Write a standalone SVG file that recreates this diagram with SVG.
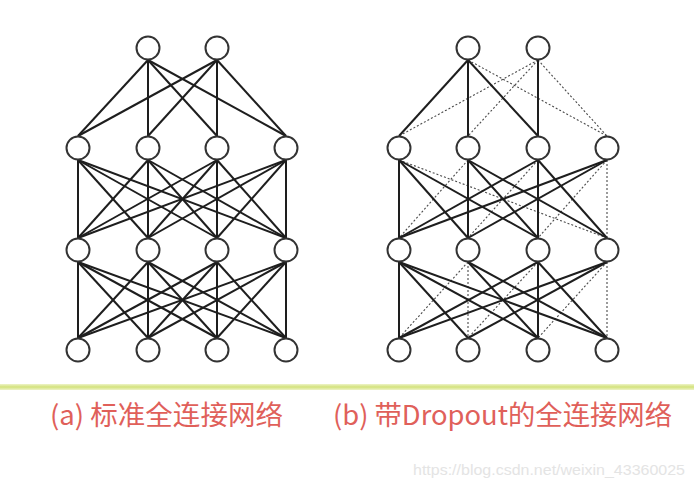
<svg xmlns="http://www.w3.org/2000/svg" width="694" height="488" viewBox="0 0 694 488">
<style>
.e{stroke:#1e1e1e;stroke-width:2;fill:none}
.d{stroke:#4a4a4a;stroke-width:1.1;stroke-dasharray:2 2;fill:none}
.n{fill:#fff;stroke:#333;stroke-width:2}
.lab{font-family:"Noto Sans CJK SC","Noto Sans",sans-serif;font-size:27px;fill:#e0605a}
.wm{font-family:"Liberation Sans",Arial,sans-serif;font-size:15px;fill:#e4e4e4}
</style>
<defs>
<linearGradient id="yl" x1="0" y1="0" x2="0" y2="1">
<stop offset="0" stop-color="#eef3c8"/>
<stop offset="0.5" stop-color="#d3e27c"/>
<stop offset="1" stop-color="#eef3c8"/>
</linearGradient>
</defs>
<rect width="694" height="488" fill="#fff"/>
<g id="connectors">
<g id="left-edges" class="e">
<line x1="148" y1="60" x2="78" y2="136"/><line x1="148" y1="60" x2="148" y2="136"/><line x1="148" y1="60" x2="217" y2="136"/><line x1="148" y1="60" x2="286" y2="136"/>
<line x1="217" y1="60" x2="78" y2="136"/><line x1="217" y1="60" x2="148" y2="136"/><line x1="217" y1="60" x2="217" y2="136"/><line x1="217" y1="60" x2="286" y2="136"/>
<line x1="78" y1="160" x2="78" y2="238"/><line x1="78" y1="160" x2="148" y2="238"/><line x1="78" y1="160" x2="217" y2="238"/><line x1="78" y1="160" x2="286" y2="238"/>
<line x1="148" y1="160" x2="78" y2="238"/><line x1="148" y1="160" x2="148" y2="238"/><line x1="148" y1="160" x2="217" y2="238"/><line x1="148" y1="160" x2="286" y2="238"/>
<line x1="217" y1="160" x2="78" y2="238"/><line x1="217" y1="160" x2="148" y2="238"/><line x1="217" y1="160" x2="217" y2="238"/><line x1="217" y1="160" x2="286" y2="238"/>
<line x1="286" y1="160" x2="78" y2="238"/><line x1="286" y1="160" x2="148" y2="238"/><line x1="286" y1="160" x2="217" y2="238"/><line x1="286" y1="160" x2="286" y2="238"/>
<line x1="78" y1="262" x2="78" y2="338"/><line x1="78" y1="262" x2="148" y2="338"/><line x1="78" y1="262" x2="217" y2="338"/><line x1="78" y1="262" x2="286" y2="338"/>
<line x1="148" y1="262" x2="78" y2="338"/><line x1="148" y1="262" x2="148" y2="338"/><line x1="148" y1="262" x2="217" y2="338"/><line x1="148" y1="262" x2="286" y2="338"/>
<line x1="217" y1="262" x2="78" y2="338"/><line x1="217" y1="262" x2="148" y2="338"/><line x1="217" y1="262" x2="217" y2="338"/><line x1="217" y1="262" x2="286" y2="338"/>
<line x1="286" y1="262" x2="78" y2="338"/><line x1="286" y1="262" x2="148" y2="338"/><line x1="286" y1="262" x2="217" y2="338"/><line x1="286" y1="262" x2="286" y2="338"/>
</g>
<g id="right-dropped" class="d">
<line x1="468" y1="60" x2="607" y2="136"/>
<line x1="538" y1="60" x2="399" y2="136"/><line x1="538" y1="60" x2="468" y2="136"/><line x1="538" y1="60" x2="607" y2="136"/>
<line x1="399" y1="160" x2="607" y2="238"/>
<line x1="468" y1="160" x2="399" y2="238"/>
<line x1="538" y1="160" x2="468" y2="238"/>
<line x1="607" y1="160" x2="538" y2="238"/><line x1="607" y1="160" x2="607" y2="238"/>
<line x1="468" y1="262" x2="399" y2="338"/><line x1="468" y1="262" x2="468" y2="338"/>
<line x1="538" y1="262" x2="468" y2="338"/>
<line x1="607" y1="262" x2="538" y2="338"/><line x1="607" y1="262" x2="607" y2="338"/>
</g>
<g id="right-kept" class="e">
<line x1="468" y1="60" x2="399" y2="136"/><line x1="468" y1="60" x2="468" y2="136"/><line x1="468" y1="60" x2="538" y2="136"/>
<line x1="538" y1="60" x2="538" y2="136"/>
<line x1="399" y1="160" x2="399" y2="238"/><line x1="399" y1="160" x2="468" y2="238"/><line x1="399" y1="160" x2="538" y2="238"/>
<line x1="468" y1="160" x2="468" y2="238"/><line x1="468" y1="160" x2="538" y2="238"/><line x1="468" y1="160" x2="607" y2="238"/>
<line x1="538" y1="160" x2="399" y2="238"/><line x1="538" y1="160" x2="538" y2="238"/><line x1="538" y1="160" x2="607" y2="238"/>
<line x1="607" y1="160" x2="399" y2="238"/><line x1="607" y1="160" x2="468" y2="238"/>
<line x1="399" y1="262" x2="399" y2="338"/><line x1="399" y1="262" x2="468" y2="338"/><line x1="399" y1="262" x2="538" y2="338"/><line x1="399" y1="262" x2="607" y2="338"/>
<line x1="468" y1="262" x2="538" y2="338"/><line x1="468" y1="262" x2="607" y2="338"/>
<line x1="538" y1="262" x2="399" y2="338"/><line x1="538" y1="262" x2="538" y2="338"/><line x1="538" y1="262" x2="607" y2="338"/>
<line x1="607" y1="262" x2="399" y2="338"/><line x1="607" y1="262" x2="468" y2="338"/>
</g>
</g>
<g id="left-net">
<g id="a-t1"><circle class="n" cx="148" cy="48" r="11.5"/></g>
<g id="a-t2"><circle class="n" cx="217" cy="48" r="11.5"/></g>
<g id="a-h1-1"><circle class="n" cx="78" cy="148" r="11.5"/></g>
<g id="a-h1-2"><circle class="n" cx="148" cy="148" r="11.5"/></g>
<g id="a-h1-3"><circle class="n" cx="217" cy="148" r="11.5"/></g>
<g id="a-h1-4"><circle class="n" cx="286" cy="148" r="11.5"/></g>
<g id="a-h2-1"><circle class="n" cx="78" cy="250" r="11.5"/></g>
<g id="a-h2-2"><circle class="n" cx="148" cy="250" r="11.5"/></g>
<g id="a-h2-3"><circle class="n" cx="217" cy="250" r="11.5"/></g>
<g id="a-h2-4"><circle class="n" cx="286" cy="250" r="11.5"/></g>
<g id="a-in-1"><circle class="n" cx="78" cy="350" r="11.5"/></g>
<g id="a-in-2"><circle class="n" cx="148" cy="350" r="11.5"/></g>
<g id="a-in-3"><circle class="n" cx="217" cy="350" r="11.5"/></g>
<g id="a-in-4"><circle class="n" cx="286" cy="350" r="11.5"/></g>
</g>
<g id="right-net">
<g id="b-t1"><circle class="n" cx="468" cy="48" r="11.5"/></g>
<g id="b-t2"><circle class="n" cx="538" cy="48" r="11.5"/></g>
<g id="b-h1-1"><circle class="n" cx="399" cy="148" r="11.5"/></g>
<g id="b-h1-2"><circle class="n" cx="468" cy="148" r="11.5"/></g>
<g id="b-h1-3"><circle class="n" cx="538" cy="148" r="11.5"/></g>
<g id="b-h1-4"><circle class="n" cx="607" cy="148" r="11.5"/></g>
<g id="b-h2-1"><circle class="n" cx="399" cy="250" r="11.5"/></g>
<g id="b-h2-2"><circle class="n" cx="468" cy="250" r="11.5"/></g>
<g id="b-h2-3"><circle class="n" cx="538" cy="250" r="11.5"/></g>
<g id="b-h2-4"><circle class="n" cx="607" cy="250" r="11.5"/></g>
<g id="b-in-1"><circle class="n" cx="399" cy="350" r="11.5"/></g>
<g id="b-in-2"><circle class="n" cx="468" cy="350" r="11.5"/></g>
<g id="b-in-3"><circle class="n" cx="538" cy="350" r="11.5"/></g>
<g id="b-in-4"><circle class="n" cx="607" cy="350" r="11.5"/></g>
</g>
<rect id="divider" x="0" y="384" width="694" height="6" fill="url(#yl)"/>
<g id="captions">
<text class="lab" x="50" y="425" textLength="233" lengthAdjust="spacingAndGlyphs">(a) 标准全连接网络</text>
<text class="lab" x="333" y="425" textLength="339" lengthAdjust="spacingAndGlyphs">(b) 带Dropout的全连接网络</text>
</g>
<text class="wm" x="413" y="475" textLength="272" lengthAdjust="spacingAndGlyphs">https://blog.csdn.net/weixin_43360025</text>
</svg>
